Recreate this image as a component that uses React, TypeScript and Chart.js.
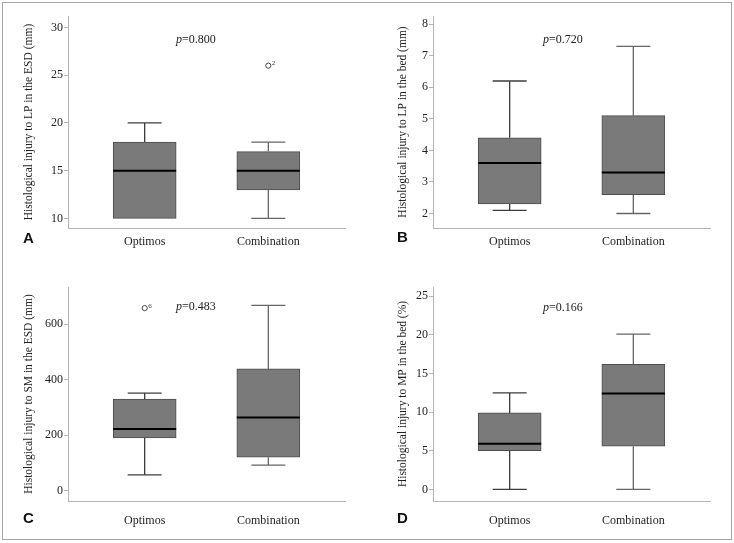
import React, { useEffect, useRef } from 'react';
import { Chart, registerables } from 'chart.js';

Chart.register(...registerables);

// ---- data ----
const categories = ['Optimos', 'Combination'];

// each box: [lower whisker, Q1, median, Q3, upper whisker]
const lpEsdOptimos = [10, 10, 15, 18, 20];
const lpEsdCombination = [10, 13, 15, 17, 18];
const lpEsdOutliers = [null, 26];
const lpEsdOutlierLabels = ['', '2'];
const lpEsdTicks = [10, 15, 20, 25, 30];
const lpEsdP = '0.800';

const lpBedOptimos = [2.1, 2.3, 3.6, 4.4, 6.2];
const lpBedCombination = [2.0, 2.6, 3.3, 5.1, 7.3];
const lpBedOutliers = [null, null];
const lpBedOutlierLabels = ['', ''];
const lpBedTicks = [2, 3, 4, 5, 6, 7, 8];
const lpBedP = '0.720';

const smEsdOptimos = [57, 190, 222, 330, 352];
const smEsdCombination = [92, 121, 264, 439, 668];
const smEsdOutliers = [658, null];
const smEsdOutlierLabels = ['6', ''];
const smEsdTicks = [0, 200, 400, 600];
const smEsdP = '0.483';

const mpBedOptimos = [0, 5.0, 5.9, 9.9, 12.5];
const mpBedCombination = [0, 5.6, 12.4, 16.2, 20.1];
const mpBedOutliers = [null, null];
const mpBedOutlierLabels = ['', ''];
const mpBedTicks = [0, 5, 10, 15, 20, 25];
const mpBedP = '0.166';

// ---- styling / layout ----
const SERIF = '"Liberation Serif", "Times New Roman", serif';
const SANS = '"Liberation Sans", Arial, sans-serif';
const AXIS_COLOR = '#b4b4b4';
const BOX_FILL = '#7a7a7a';
const BOX_BORDER = '#4d4d4d';
const WHISKER_COLORS = ['#3c3c3c', '#666666'];

type PanelCfg = {
  letter: string;
  title: string;
  boxes: number[][];
  outliers: (number | null)[];
  outlierLabels: string[];
  ticks: number[];
  p: string;
  yMin: number;
  yMax: number;
  left: number;
  top: number;
  w: number;
  h: number;
  axisW: number;
  padTop: number;
  padRight: number;
  padBottom: number;
  xH: number;
  labelPad: number;
  titlePad: number;
  letterX: number;
  letterY: number;
  pX: number;
  pY: number;
};

const panels: PanelCfg[] = [
  {
    letter: 'A', title: 'Histological injury to LP in the ESD (mm)',
    boxes: [lpEsdOptimos, lpEsdCombination], outliers: lpEsdOutliers, outlierLabels: lpEsdOutlierLabels,
    ticks: lpEsdTicks, p: lpEsdP, yMin: 9, yMax: 31.2,
    left: 0, top: 0, w: 367, h: 272, axisW: 68, padTop: 16, padRight: 22, padBottom: 14, xH: 30,
    labelPad: 7, titlePad: 22, letterX: 23, letterY: 243, pX: 176, pY: 43,
  },
  {
    letter: 'B', title: 'Histological injury to LP in the bed (mm)',
    boxes: [lpBedOptimos, lpBedCombination], outliers: lpBedOutliers, outlierLabels: lpBedOutlierLabels,
    ticks: lpBedTicks, p: lpBedP, yMin: 1.54, yMax: 8.26,
    left: 367, top: 0, w: 367, h: 272, axisW: 66, padTop: 16, padRight: 24, padBottom: 14, xH: 30,
    labelPad: 7, titlePad: 29, letterX: 30, letterY: 242, pX: 176, pY: 43,
  },
  {
    letter: 'C', title: 'Histological injury to SM in the ESD (mm)',
    boxes: [smEsdOptimos, smEsdCombination], outliers: smEsdOutliers, outlierLabels: smEsdOutlierLabels,
    ticks: smEsdTicks, p: smEsdP, yMin: -37, yMax: 734,
    left: 0, top: 272, w: 367, h: 271, axisW: 68, padTop: 15, padRight: 22, padBottom: 12, xH: 30,
    labelPad: 13, titlePad: 22, letterX: 23, letterY: 251, pX: 176, pY: 38,
  },
  {
    letter: 'D', title: 'Histological injury to MP in the bed (%)',
    boxes: [mpBedOptimos, mpBedCombination], outliers: mpBedOutliers, outlierLabels: mpBedOutlierLabels,
    ticks: mpBedTicks, p: mpBedP, yMin: -1.5, yMax: 26.2,
    left: 367, top: 272, w: 367, h: 271, axisW: 66, padTop: 15, padRight: 24, padBottom: 12, xH: 30,
    labelPad: 13, titlePad: 29, letterX: 30, letterY: 251, pX: 176, pY: 39,
  },
];

function makeExtras(cfg: PanelCfg) {
  return {
    id: 'boxExtras' + cfg.letter,
    afterDatasetsDraw(chart: any) {
      const ctx: CanvasRenderingContext2D = chart.ctx;
      const yS = chart.scales.y;
      const meta = chart.getDatasetMeta(0);
      const capHalf = 17;
      cfg.boxes.forEach((s, i) => {
        const bar = meta.data[i];
        if (!bar) return;
        const cx = bar.x;
        const half = bar.width / 2;
        const [lo, q1, med, q3, hi] = s;
        ctx.save();
        ctx.strokeStyle = WHISKER_COLORS[i];
        ctx.lineWidth = 1.3;
        ctx.beginPath();
        if (hi > q3) {
          ctx.moveTo(cx, yS.getPixelForValue(q3));
          ctx.lineTo(cx, yS.getPixelForValue(hi));
          ctx.moveTo(cx - capHalf, yS.getPixelForValue(hi));
          ctx.lineTo(cx + capHalf, yS.getPixelForValue(hi));
        }
        if (lo < q1) {
          ctx.moveTo(cx, yS.getPixelForValue(q1));
          ctx.lineTo(cx, yS.getPixelForValue(lo));
          ctx.moveTo(cx - capHalf, yS.getPixelForValue(lo));
          ctx.lineTo(cx + capHalf, yS.getPixelForValue(lo));
        }
        ctx.stroke();
        ctx.strokeStyle = '#000';
        ctx.lineWidth = 2;
        ctx.beginPath();
        ctx.moveTo(cx - half, yS.getPixelForValue(med));
        ctx.lineTo(cx + half, yS.getPixelForValue(med));
        ctx.stroke();
        ctx.restore();
      });
      // outlier case labels
      const om = chart.getDatasetMeta(1);
      ctx.save();
      ctx.fillStyle = '#333';
      ctx.font = '7px ' + SERIF;
      ctx.textBaseline = 'alphabetic';
      ctx.textAlign = 'left';
      om.data.forEach((pt: any, i: number) => {
        const label = cfg.outlierLabels[i];
        if (label && cfg.outliers[i] != null) ctx.fillText(label, pt.x + 3.5, pt.y - 0.5);
      });
      ctx.restore();
      // p value
      ctx.save();
      ctx.fillStyle = '#222';
      ctx.textBaseline = 'alphabetic';
      ctx.textAlign = 'left';
      ctx.font = 'italic 12px ' + SERIF;
      ctx.fillText('p', cfg.pX, cfg.pY);
      const pw = ctx.measureText('p').width;
      ctx.font = '12px ' + SERIF;
      ctx.fillText('=' + cfg.p, cfg.pX + pw, cfg.pY);
      ctx.restore();
      // panel letter
      ctx.save();
      ctx.fillStyle = '#111';
      ctx.font = 'bold 15px ' + SANS;
      ctx.textBaseline = 'alphabetic';
      ctx.textAlign = 'left';
      ctx.fillText(cfg.letter, cfg.letterX, cfg.letterY);
      ctx.restore();
    },
  };
}

function Panel({ cfg }: { cfg: PanelCfg }) {
  const ref = useRef<HTMLCanvasElement>(null);
  useEffect(() => {
    const canvas = ref.current;
    if (!canvas) return;
    const chart = new Chart(canvas, {
      type: 'bar',
      data: {
        datasets: [
          {
            type: 'bar',
            data: cfg.boxes.map((b, i) => ({ x: i + 1, y: [b[1], b[3]] })) as any,
            backgroundColor: BOX_FILL,
            borderColor: BOX_BORDER,
            borderWidth: 1,
            borderSkipped: false,
            barThickness: 63,
          } as any,
          {
            type: 'line',
            data: cfg.outliers.map((v, i) => ({ x: i + 1, y: v })) as any,
            showLine: false,
            pointRadius: 2.6,
            pointBorderWidth: 1,
            pointBorderColor: '#444',
            pointBackgroundColor: 'rgba(255,255,255,0)',
            pointStyle: 'circle',
          } as any,
        ],
      },
      options: {
        responsive: false,
        animation: false,
        events: [],
        layout: { padding: { left: 0, top: cfg.padTop, right: cfg.padRight, bottom: cfg.padBottom } },
        plugins: { legend: { display: false }, tooltip: { enabled: false } },
        scales: {
          x: {
            type: 'linear',
            min: 0.38,
            max: 2.62,
            offset: false,
            afterBuildTicks: (scale: any) => {
              scale.ticks = categories.map((_, i) => ({ value: i + 1 }));
            },
            afterFit: (scale: any) => {
              scale.height = cfg.xH;
            },
            grid: { display: true, drawOnChartArea: false, drawTicks: false, color: AXIS_COLOR },
            border: { display: true, color: AXIS_COLOR, width: 1 },
            ticks: {
              padding: cfg.labelPad,
              color: '#222',
              font: { family: SERIF, size: 12 },
              autoSkip: false,
              maxRotation: 0,
              callback: (v: any) => categories[Math.round(Number(v)) - 1] ?? '',
            },
          },
          y: {
            type: 'linear',
            min: cfg.yMin,
            max: cfg.yMax,
            afterBuildTicks: (scale: any) => {
              scale.ticks = cfg.ticks.map((v) => ({ value: v }));
            },
            afterFit: (scale: any) => {
              scale.width = cfg.axisW;
            },
            grid: { display: true, drawOnChartArea: false, drawTicks: true, tickLength: 4, color: AXIS_COLOR },
            border: { display: true, color: AXIS_COLOR, width: 1 },
            ticks: {
              padding: 1,
              color: '#222',
              font: { family: SERIF, size: 12 },
              autoSkip: false,
            },
            title: {
              display: true,
              text: cfg.title,
              color: '#222',
              font: { family: SERIF, size: 11.5 },
              padding: { top: cfg.titlePad, bottom: 0 },
            },
          },
        },
      } as any,
      plugins: [makeExtras(cfg)],
    });
    return () => chart.destroy();
  }, [cfg]);
  return (
    <canvas
      ref={ref}
      width={cfg.w}
      height={cfg.h}
      style={{ position: 'absolute', left: cfg.left, top: cfg.top, width: cfg.w, height: cfg.h }}
    />
  );
}

export default function App() {
  return (
    <div
      style={{
        position: 'fixed',
        left: 0,
        top: 0,
        width: 734,
        height: 543,
        background: '#fff',
        overflow: 'hidden',
      }}
    >
      <div
        style={{
          position: 'absolute',
          left: 2,
          top: 2,
          width: 730,
          height: 538,
          boxSizing: 'border-box',
          border: '1px solid #a6a6a6',
        }}
      />
      {panels.map((p) => (
        <Panel key={p.letter} cfg={p} />
      ))}
    </div>
  );
}
